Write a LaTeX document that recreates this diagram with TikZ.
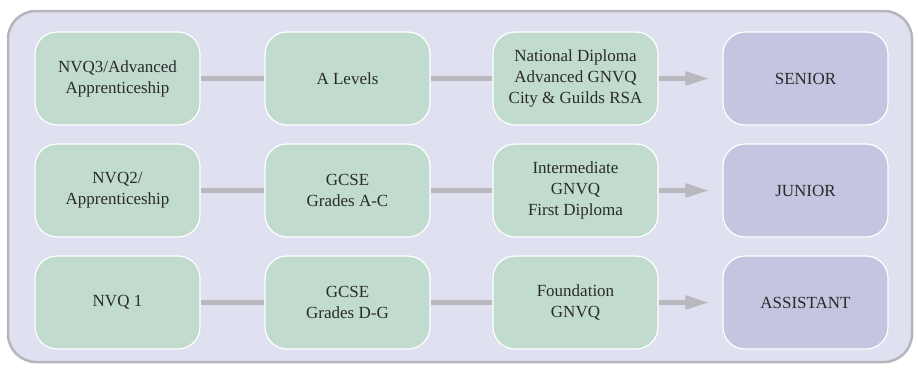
\documentclass[tikz,border=0pt]{standalone}
\usepackage{fontspec}
\setmainfont{Liberation Serif}
\usetikzlibrary{arrows.meta}
\definecolor{bgc}{HTML}{DFE0F0}
\definecolor{frame}{HTML}{B5B5BA}
\definecolor{greenc}{HTML}{C1DCCF}
\definecolor{purpc}{HTML}{C5C5E1}
\definecolor{linec}{HTML}{B8B8BE}
\definecolor{txt}{HTML}{2A2A2A}
\tikzset{
  qbox/.style={draw=white, line width=1.2pt, rounded corners=22pt, minimum width=165pt, minimum height=93pt,
    align=center, text=txt, font=\fontsize{17}{21}\selectfont, inner sep=0pt},
  gbox/.style={qbox, fill=greenc},
  pbox/.style={qbox, fill=purpc},
  link/.style={draw=linec, line width=5pt},
  alink/.style={link, -{Triangle[length=24pt,width=13pt]}, shorten >=13pt},
}
\begin{document}
\begin{tikzpicture}[x=1pt,y=-1pt]
\useasboundingbox (0,0) rectangle (918,367);
\draw[frame, line width=2.5pt, fill=bgc, rounded corners=28pt] (8,11) rectangle (912,362);
% row 1
\node[gbox] (a1) at (117.5,78.5) {NVQ3/Advanced\\Apprenticeship};
\node[gbox] (b1) at (347.5,78.5) {A Levels};
\node[gbox] (c1) at (575.5,78.5) {National Diploma\\Advanced GNVQ\\City \& Guilds RSA};
\node[pbox] (d1) at (805.5,78.5) {SENIOR};
% row 2
\node[gbox] (a2) at (117.5,190.5) {NVQ2/\\Apprenticeship};
\node[gbox] (b2) at (347.5,190.5) {GCSE\\Grades A-C};
\node[gbox] (c2) at (575.5,190.5) {Intermediate\\GNVQ\\First Diploma};
\node[pbox] (d2) at (805.5,190.5) {JUNIOR};
% row 3
\node[gbox] (a3) at (117.5,302.5) {NVQ 1};
\node[gbox] (b3) at (347.5,302.5) {GCSE\\Grades D-G};
\node[gbox] (c3) at (575.5,302.5) {Foundation\\GNVQ};
\node[pbox] (d3) at (805.5,302.5) {ASSISTANT};
\foreach \r in {1,2,3}{
  \draw[link] (a\r) -- (b\r);
  \draw[link] (b\r) -- (c\r);
  \draw[alink] (c\r) -- (d\r);
}
\end{tikzpicture}
\end{document}
